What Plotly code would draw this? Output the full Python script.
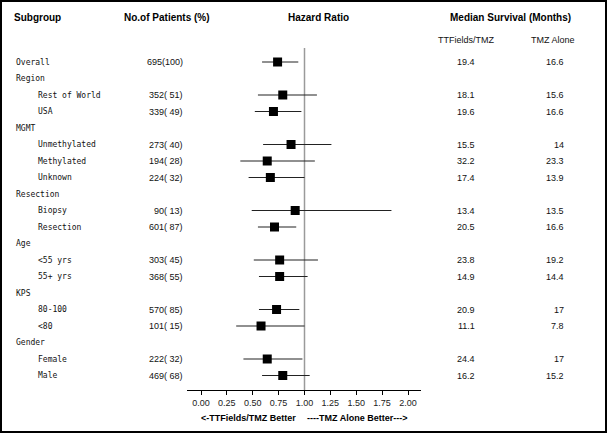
import plotly.graph_objects as go

# ---------------- data ----------------
labels = ["Overall", "Region", "Rest of World", "USA", "MGMT", "Unmethylated",
          "Methylated", "Unknown", "Resection", "Biopsy", "Resection", "Age",
          "<55 yrs", "55+ yrs", "KPS", "80-100", "<80", "Gender", "Female", "Male"]
indent = [0, 0, 1, 1, 0, 1, 1, 1, 0, 1, 1, 0, 1, 1, 0, 1, 1, 0, 1, 1]
patients = ["695(100)", "", "352( 51)", "339( 49)", "", "273( 40)", "194( 28)",
            "224( 32)", "", "90( 13)", "601( 87)", "", "303( 45)", "368( 55)", "",
            "570( 85)", "101( 15)", "", "222( 32)", "469( 68)"]
hr = [0.74, None, 0.79, 0.70, None, 0.87, 0.64, 0.67, None, 0.91, 0.71, None,
      0.76, 0.76, None, 0.73, 0.58, None, 0.64, 0.79]
ci_lo = [0.59, None, 0.55, 0.52, None, 0.60, 0.38, 0.46, None, 0.49, 0.55, None,
         0.51, 0.56, None, 0.56, 0.34, None, 0.41, 0.59]
ci_hi = [0.94, None, 1.12, 0.97, None, 1.26, 1.10, 1.00, None, 1.84, 0.92, None,
         1.13, 1.03, None, 0.95, 1.00, None, 0.98, 1.05]
median_ttf = ["19.4", "", "18.1", "19.6", "", "15.5", "32.2", "17.4", "", "13.4",
              "20.5", "", "23.8", "14.9", "", "20.9", "11.1", "", "24.4", "16.2"]
median_tmz = ["16.6", "", "15.6", "16.6", "", "14", "23.3", "13.9", "", "13.5",
              "16.6", "", "19.2", "14.4", "", "17", "7.8", "", "17", "15.2"]
tick_vals = [0, 0.25, 0.5, 0.75, 1.0, 1.25, 1.5, 1.75, 2.0]
ref_value = 1.0

# ---------------- layout helpers ----------------
W, H = 608, 434
ROW0, ROWH = 62, 16.5
AXIS_PX = 390


def py(p):  # pixel row -> data y
    return (p - ROW0) / ROWH


def px(x):  # pixel x -> paper
    return x / W


def ppy(p):  # pixel y -> paper
    return (H - p) / H


rows = list(range(len(labels)))
idx = [i for i in rows if hr[i] is not None]

fig = go.Figure()
fig.add_trace(go.Scatter(
    x=[hr[i] for i in idx], y=[i for i in idx], mode="markers",
    marker=dict(symbol="square", size=9, color="black"),
    error_x=dict(type="data", symmetric=False,
                 array=[ci_hi[i] - hr[i] for i in idx],
                 arrayminus=[hr[i] - ci_lo[i] for i in idx],
                 width=0, thickness=1.2, color="#222"),
    showlegend=False, hoverinfo="skip"))

x_scale = 103.5
x0_px = 201
xr = [(187 - x0_px) / x_scale, (421 - x0_px) / x_scale]

fig.update_layout(
    width=W, height=H, margin=dict(l=0, r=0, t=0, b=0),
    paper_bgcolor="white", plot_bgcolor="white", showlegend=False,
    xaxis=dict(domain=[px(187), px(421)], range=xr, tickvals=tick_vals,
               tickformat=".2f", showgrid=False, zeroline=False,
               showline=True, linecolor="black", linewidth=1,
               ticks="outside", ticklen=4, tickcolor="black",
               tickfont=dict(family="Liberation Sans", size=9, color="#222")),
    yaxis=dict(domain=[ppy(AXIS_PX), 1], range=[py(AXIS_PX), py(0)],
               showgrid=False, zeroline=False, showline=False,
               showticklabels=False, ticks=""),
)

# reference line
fig.add_shape(type="line", xref="x", yref="y", x0=ref_value, x1=ref_value,
              y0=py(48), y1=py(AXIS_PX), line=dict(color="#9a9a9a", width=1.5),
              layer="below")
# frame
fig.add_shape(type="rect", xref="paper", yref="paper", x0=px(1), x1=px(606),
              y0=ppy(432), y1=ppy(1), line=dict(color="black", width=2))

ann = []
hfont = dict(family="Liberation Sans", size=10, color="black")
bfont = dict(family="Liberation Sans", size=9, color="black")
nfont = dict(family="Liberation Sans", size=9, color="#111")
mfont = dict(family="DejaVu Sans Mono", size=8, color="#111")


def add(text, x, y, xanchor, font, yref="y"):
    ann.append(dict(text=text, x=x, y=y, xref="paper", yref=yref,
                    xanchor=xanchor, yanchor="middle", showarrow=False,
                    font=font))


# headers
add("<b>Subgroup</b>", px(12), py(17), "left", hfont)
add("<b>No.of Patients (%)</b>", px(167), py(17), "center", hfont)
add("<b>Hazard Ratio</b>", px(318), py(17), "center", hfont)
add("<b>Median Survival (Months)</b>", px(510), py(17), "center", hfont)
add("TTFields/TMZ", px(466), py(40), "center", nfont)
add("TMZ Alone", px(553), py(40), "center", nfont)

for i in rows:
    add(labels[i].replace(" ", "\u00a0"), px(36 if indent[i] else 14), i, "left", mfont)
    if patients[i]:
        add(patients[i].replace(" ", "\u00a0"), px(185), i, "right", nfont)
    if median_ttf[i]:
        add(median_ttf[i], px(466), i, "center", nfont)
    if median_tmz[i]:
        add(median_tmz[i], px(566), i, "right", nfont)

add("<b><-TTFields/TMZ Better</b>", px(298), ppy(418), "right", bfont, yref="paper")
add("<b>----TMZ Alone Better---></b>", px(305), ppy(418), "left", bfont, yref="paper")

fig.update_layout(annotations=ann)
fig.write_html(
    "out.html",
    config={"displayModeBar": False, "staticPlot": True},
    post_script="document.body.style.margin='0';document.body.style.overflow='hidden';",
)
